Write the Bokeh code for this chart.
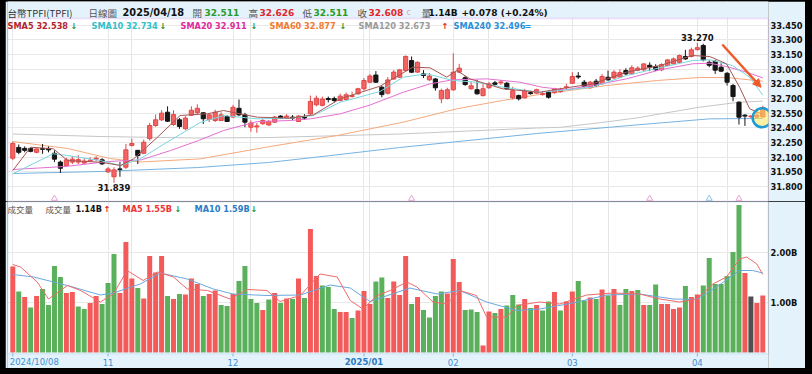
import numpy as np
from bokeh.plotting import figure
from bokeh.layouts import column
from bokeh.models import (ColumnDataSource, Range1d, FixedTicker, PrintfTickFormatter,
                          Grid, Label, Arrow, NormalHead, BoxAnnotation)
from bokeh.core.properties import value
from bokeh.embed import file_html
from bokeh.resources import INLINE

# ---------------- data ----------------
opens = [
    32.09, 32.20, 32.19, 32.19, 32.15, 32.19, 32.19, 32.14, 32.05, 32.014,
    32.05, 32.05, 32.04, 32.06, 32.08, 32.073, 31.95, 31.90, 31.98, 31.998,
    32.22, 32.17, 32.14, 32.29, 32.424, 32.482, 32.56, 32.434, 32.482, 32.39,
    32.53, 32.555, 32.554, 32.485, 32.475, 32.475, 32.516, 32.51, 32.60, 32.533,
    32.407, 32.41, 32.443, 32.43, 32.458, 32.52, 32.50, 32.51, 32.465, 32.51,
    32.543, 32.636, 32.63, 32.70, 32.70, 32.68, 32.69, 32.72, 32.748, 32.80,
    32.867, 32.94, 32.815, 32.754, 32.90, 32.918, 32.986, 33.088, 32.97, 32.952,
    32.891, 32.90, 32.697, 32.70, 32.789, 32.97, 32.912, 32.80, 32.79, 32.73,
    32.81, 32.86, 32.86, 32.856, 32.707, 32.73, 32.707, 32.76, 32.755, 32.74,
    32.764, 32.76, 32.77, 32.81, 32.856, 32.93, 32.867, 32.81, 32.877, 32.85,
    32.917, 32.91, 32.92, 32.986, 32.952, 32.99, 32.993, 33.04, 33.027, 32.993,
    33.037, 33.054, 33.07, 33.13, 33.13, 33.20, 33.242, 33.07, 33.08, 33.02,
    32.958, 32.833, 32.662, 32.53, 32.515, 32.51, 32.511]
highs = [
    32.26, 32.23, 32.21, 32.20, 32.19, 32.235, 32.21, 32.17, 32.066, 32.094,
    32.11, 32.12, 32.09, 32.10, 32.11, 32.09, 32.00, 31.997, 32.05, 32.236,
    32.29, 32.174, 32.28, 32.45, 32.536, 32.58, 32.62, 32.58, 32.50, 32.52,
    32.62, 32.64, 32.56, 32.55, 32.585, 32.56, 32.53, 32.635, 32.69, 32.554,
    32.475, 32.45, 32.49, 32.48, 32.52, 32.53, 32.54, 32.53, 32.53, 32.54,
    32.73, 32.73, 32.72, 32.72, 32.72, 32.75, 32.76, 32.77, 32.81, 32.91,
    32.95, 32.98, 32.83, 32.92, 32.99, 33.00, 33.14, 33.13, 33.08, 32.99,
    32.96, 32.91, 32.80, 32.81, 33.163, 33.055, 32.93, 32.87, 32.89, 32.85,
    32.87, 32.88, 32.89, 32.87, 32.82, 32.74, 32.80, 32.78, 32.80, 32.77,
    32.78, 32.81, 32.81, 32.85, 32.97, 32.97, 32.89, 32.88, 32.90, 32.95,
    32.986, 32.99, 33.00, 33.01, 33.04, 33.03, 33.06, 33.07, 33.05, 33.06,
    33.10, 33.12, 33.15, 33.198, 33.22, 33.27, 33.26, 33.09, 33.095, 33.06,
    32.97, 32.85, 32.672, 32.54, 32.53, 32.58, 32.626]
lows = [
    32.07, 32.13, 32.15, 32.15, 32.14, 32.135, 32.15, 32.05, 31.94, 32.005,
    32.03, 32.03, 32.03, 32.05, 32.06, 32.02, 31.94, 31.839, 31.90, 31.98,
    32.21, 32.03, 32.13, 32.27, 32.41, 32.47, 32.46, 32.42, 32.39, 32.38,
    32.52, 32.54, 32.44, 32.46, 32.46, 32.47, 32.46, 32.50, 32.52, 32.407,
    32.36, 32.35, 32.43, 32.42, 32.45, 32.49, 32.49, 32.48, 32.46, 32.48,
    32.535, 32.62, 32.62, 32.66, 32.66, 32.67, 32.68, 32.71, 32.74, 32.78,
    32.86, 32.86, 32.713, 32.74, 32.89, 32.91, 32.98, 32.96, 32.96, 32.91,
    32.88, 32.78, 32.652, 32.69, 32.78, 32.96, 32.83, 32.79, 32.74, 32.72,
    32.80, 32.83, 32.84, 32.79, 32.69, 32.68, 32.70, 32.74, 32.75, 32.73,
    32.70, 32.75, 32.76, 32.79, 32.85, 32.90, 32.81, 32.80, 32.82, 32.845,
    32.884, 32.90, 32.91, 32.94, 32.94, 32.98, 32.98, 32.98, 32.98, 32.98,
    33.03, 33.05, 33.06, 33.095, 33.12, 33.19, 33.08, 33.02, 32.952, 32.97,
    32.833, 32.672, 32.434, 32.42, 32.50, 32.50, 32.511]
closes = [
    32.24, 32.15, 32.17, 32.16, 32.185, 32.18, 32.175, 32.08, 31.987, 32.073,
    32.08, 32.075, 32.06, 32.07, 32.09, 32.032, 31.98, 31.97, 31.975, 32.175,
    32.24, 32.117, 32.253, 32.424, 32.482, 32.55, 32.468, 32.536, 32.414, 32.50,
    32.58, 32.60, 32.493, 32.533, 32.56, 32.533, 32.465, 32.61, 32.533, 32.458,
    32.45, 32.42, 32.475, 32.465, 32.51, 32.50, 32.52, 32.50, 32.52, 32.50,
    32.67, 32.703, 32.695, 32.69, 32.68, 32.724, 32.738, 32.73, 32.80, 32.884,
    32.93, 32.867, 32.74, 32.89, 32.97, 32.993, 33.13, 32.969, 33.07, 32.935,
    32.93, 32.81, 32.782, 32.79, 32.969, 33.01, 32.843, 32.83, 32.748, 32.80,
    32.85, 32.845, 32.87, 32.80, 32.78, 32.697, 32.78, 32.75, 32.79, 32.75,
    32.713, 32.80, 32.79, 32.82, 32.925, 32.92, 32.823, 32.867, 32.833, 32.925,
    32.89, 32.97, 32.965, 32.952, 33.014, 33.01, 33.054, 33.02, 32.993, 33.047,
    33.095, 33.105, 33.139, 33.105, 33.198, 33.22, 33.096, 33.04, 32.99, 32.98,
    32.867, 32.72, 32.509, 32.52, 32.52, 32.53, 32.608]
prev_close_before = 32.05
volumes = [  # billions
    1.72, 1.22, 1.11, 0.90, 1.13, 1.27, 0.95, 1.73, 1.51, 1.19,
    1.21, 0.92, 0.87, 0.99, 1.13, 0.97, 1.39, 1.97, 1.19, 2.21,
    1.48, 1.29, 1.08, 1.93, 1.60, 1.93, 1.13, 1.07, 1.17, 1.16,
    1.48, 1.37, 1.13, 1.17, 1.24, 0.95, 0.93, 1.17, 1.43, 1.73,
    1.07, 0.99, 0.85, 1.06, 1.19, 0.99, 1.08, 1.07, 1.48, 1.09,
    2.47, 1.53, 1.34, 1.31, 0.87, 0.81, 0.81, 0.69, 0.84, 1.23,
    0.97, 1.42, 1.50, 1.09, 1.42, 1.15, 1.93, 0.97, 1.11, 0.85,
    0.70, 1.13, 1.22, 1.18, 1.87, 1.41, 0.85, 0.86, 0.81, 0.14,
    0.82, 0.79, 0.87, 0.94, 1.15, 0.96, 1.07, 0.89, 0.95, 0.84,
    1.02, 1.21, 0.84, 1.02, 1.22, 1.43, 1.04, 1.10, 1.07, 1.26,
    1.14, 1.27, 0.95, 1.27, 1.23, 1.25, 0.95, 0.95, 1.36, 0.97,
    0.97, 0.87, 0.90, 1.33, 1.11, 1.16, 1.34, 1.89, 1.37, 1.37,
    1.53, 2.01, 2.95, 1.59, 1.12, 0.99, 1.14]

tick_idx = [0, 16, 37, 59, 74, 94, 115]
tick_labels = ["2024/10/08", "11", "12", "2025/01", "02", "03", "04"]
price_ticks = [31.80, 31.95, 32.10, 32.25, 32.40, 32.55, 32.70, 32.85, 33.00, 33.15, 33.30, 33.45]
vol_ticks = [1.0, 2.0]

# moving-average lines, read as knots (trading-day index, value)
sma5_x = [0, 3, 6.8, 9.2, 14.7, 18.1, 20.3, 24.3, 28.1, 32.7, 35.4, 41.1, 46.6, 50.5, 55, 61.7, 67.2,
          70.1, 72.9, 74.6, 76.8, 82.3, 88.5, 91.9, 97.4, 103.1, 108.7, 114.2, 117.1, 119.9, 122.1, 123.8, 126]
sma5_y = [31.964, 32.202, 32.186, 32.066, 32.049, 32.015, 32.083, 32.304, 32.526, 32.544, 32.577, 32.509,
          32.499, 32.533, 32.697, 32.826, 33.020, 33.014, 32.918, 32.986, 32.901, 32.799, 32.764, 32.799,
          32.850, 32.969, 33.037, 33.140, 33.129, 33.055, 32.816, 32.595, 32.538]
sma10_x = [0, 6.8, 9.2, 14.7, 18.1, 21.4, 25.9, 31.5, 35.4, 41.1, 46.6, 50.5, 55, 61.7, 65.6, 69.6, 73.9,
           77.9, 82.3, 88.5, 91.9, 97.4, 103.1, 108.7, 114.2, 117.1, 120.9, 123.8, 126]
sma10_y = [31.930, 32.135, 32.117, 32.066, 32.015, 32.083, 32.253, 32.455, 32.526, 32.492, 32.499, 32.526,
           32.662, 32.772, 32.918, 32.953, 32.884, 32.867, 32.816, 32.764, 32.782, 32.816, 32.935, 33.014,
           33.088, 33.096, 33.037, 32.918, 32.734]
sma20_x = [0, 8.8, 16.1, 21.6, 26.5, 31.2, 35.4, 41.1, 46.6, 50, 55, 60, 65.6, 70.1, 73.9, 79.6, 85.2,
           88.9, 92.7, 97.4, 103.1, 108.7, 114.2, 117.1, 119.9, 123.3, 126]
sma20_y = [31.974, 32.005, 32.056, 32.073, 32.168, 32.270, 32.373, 32.465, 32.475, 32.492, 32.543, 32.633,
           32.764, 32.850, 32.891, 32.901, 32.867, 32.816, 32.789, 32.833, 32.901, 32.993, 33.055, 33.061,
           33.027, 32.969, 32.911]
sma60_x = [0, 9.2, 16.4, 21.4, 31.5, 43.2, 54.5, 65.6, 74.6, 82.3, 88.5, 99.8, 108.2, 115.4, 119.9, 126]
sma60_y = [32.260, 32.189, 32.086, 32.051, 32.083, 32.209, 32.322, 32.458, 32.595, 32.680, 32.741, 32.833,
           32.884, 32.915, 32.915, 32.877]
sma120_x = [0, 15, 31, 43, 65, 88, 92, 99, 105, 115, 122, 126]
sma120_y = [32.337, 32.311, 32.296, 32.301, 32.337, 32.398, 32.406, 32.455, 32.503, 32.608, 32.662, 32.673]
sma240_x = [0, 15, 31, 43, 53, 65, 88, 105, 117, 126]
sma240_y = [31.933, 31.954, 31.994, 32.046, 32.114, 32.199, 32.342, 32.431, 32.492, 32.496]

vma5_x = [0, 1.3, 4.1, 6, 9.2, 11.4, 14.7, 16.9, 19.2, 21.9, 24.3, 27, 29.3, 32.7, 36.5, 39.4, 42.7, 44.9,
          48.3, 51.6, 54.5, 56.7, 58.8, 61.2, 63.4, 66.2, 67.9, 70.6, 72.9, 75.1, 77.9, 79.6, 83, 84.7,
          88.5, 91.9, 96.4, 100.8, 105.3, 108.7, 112, 114.9, 117.6, 119.9, 122.1, 123.3, 125, 126]
vma5_y = [1.76, 1.71, 1.41, 1.07, 1.34, 1.24, 1.01, 1.17, 1.64, 1.44, 1.61, 1.51, 1.27, 1.24, 1.07, 1.26,
          1.24, 1.02, 1.14, 1.57, 1.51, 1.04, 0.87, 1.14, 1.24, 1.41, 1.31, 1.01, 0.97, 1.24, 1.14, 0.71,
          0.71, 0.94, 1.01, 0.97, 1.15, 1.19, 1.17, 1.07, 1.01, 1.07, 1.37, 1.51, 1.87, 1.91, 1.77, 1.56]
vma10_x = [0, 3.5, 9.2, 14.7, 16.9, 21.4, 24.8, 29.3, 33.7, 37, 42.7, 48.3, 53.3, 56.7, 60, 66.7, 71.3,
           75.1, 79.6, 84.7, 88.5, 94.1, 99.8, 105.3, 110.9, 114.9, 118.7, 120.9, 122.1, 124.3, 126]
vma10_y = [1.56, 1.51, 1.34, 1.15, 1.19, 1.37, 1.59, 1.47, 1.27, 1.17, 1.14, 1.15, 1.35, 1.29, 1.02, 1.29,
           1.17, 1.24, 1.01, 0.84, 0.87, 0.99, 1.15, 1.17, 1.07, 1.06, 1.35, 1.54, 1.64, 1.64, 1.59]

event_idx = [7, 67, 107, 117, 122]
event_kind = ["a", "a", "a", "b", "a"]

highlight_pt = (125.9, 32.503)
arrow_from = (119.2, 33.252)
arrow_to = (125.7, 32.815)

# ---------------- derived ----------------
n = len(closes)
assert all(len(a) == n for a in (opens, highs, lows, volumes))
xi = np.arange(n)
o = np.array(opens); hi = np.array(highs); lo = np.array(lows); c = np.array(closes)
rise = c >= o
prev = np.concatenate([[prev_close_before], c[:-1]])
diff = np.round(c - prev, 4)
vcol = np.where(diff > 0, "#f35b5b", np.where(diff < 0, "#5bb05b", "#4f4f4f"))
src = ColumnDataSource(dict(
    x=xi, top=np.maximum(o, c), bottom=np.minimum(o, c), high=hi, low=lo,
    body=np.where(rise, "#f46262", "#151515"), edge=np.where(rise, "#e04848", "#151515"),
    vol=np.array(volumes), vcol=vcol))

BAND = "#e4f2fb"
PINK = "#dba4e8"
xr = Range1d(-0.89, 126.96)

PRICE_LO, PRICE_HI = 31.647, 33.518      # plotting area of the price panel
HEADER_TOP = 33.692                      # frame extended up over the header band
VOL_LO, VOL_HI = -0.02, 3.02
DATE_BAND_LO = -0.32                     # frame extended down over the date band


def style_value_axis(ax):
    ax.axis_line_color = None
    ax.major_tick_line_color = None
    ax.minor_tick_line_color = None
    ax.major_tick_in = 0
    ax.major_tick_out = 0
    ax.minor_tick_in = 0
    ax.minor_tick_out = 0
    ax.major_label_standoff = 2
    ax.major_label_text_font = "DejaVu Sans"
    ax.major_label_text_font_style = "bold"
    ax.major_label_text_font_size = "8.3px"
    ax.major_label_text_color = "#111111"


def label(fig, x, y, text, color, size, bold=False, font="DejaVu Sans", align="left"):
    fig.add_layout(Label(x=x, y=y, x_units="screen", y_units="screen", text=text,
                         text_color=color, text_font=font, text_font_size=f"{size}px",
                         text_font_style="bold" if bold else "normal",
                         text_baseline="middle", text_align=align))


# ---------------- price panel ----------------
p = figure(width=800, height=200, x_range=xr, y_range=Range1d(PRICE_LO, HEADER_TOP),
           output_backend="svg", toolbar_location=None,
           x_axis_location=None, y_axis_location="right",
           min_border_left=2, min_border_right=36, min_border_top=0, min_border_bottom=0,
           border_fill_color=BAND, background_fill_color="#ffffff",
           outline_line_color=None)
pax = p.yaxis[0]
pax.ticker = FixedTicker(ticks=price_ticks)
pax.formatter = PrintfTickFormatter(format="%.3f")
style_value_axis(pax)
p.ygrid.ticker = FixedTicker(ticks=price_ticks)
p.ygrid.grid_line_color = "#e8e8e8"
p.add_layout(Grid(dimension=0, ticker=FixedTicker(ticks=tick_idx), grid_line_color="#e8e8e8"))
p.add_layout(BoxAnnotation(bottom=PRICE_HI, fill_color=BAND, fill_alpha=1.0, line_color=None,
                           level="underlay"))
p.add_layout(BoxAnnotation(top=PRICE_HI, fill_alpha=0.0, line_color=PINK, line_width=2))

p.line(sma240_x, sma240_y, line_color="#76b3e2", line_width=1)
p.line(sma120_x, sma120_y, line_color="#c6c6c6", line_width=1)
p.line(sma60_x, sma60_y, line_color="#f5a97c", line_width=1)

p.segment(x0="x", y0="low", x1="x", y1="high", line_color="edge", line_width=1, source=src)
p.vbar(x="x", width=0.7, top="top", bottom="bottom", fill_color="body", line_color="edge",
       line_width=1, source=src)

p.line(sma20_x, sma20_y, line_color="#e46fd2", line_width=1)
p.line(sma10_x, sma10_y, line_color="#79d6e0", line_width=1)
p.line(sma5_x, sma5_y, line_color="#a65656", line_width=1)

ev_colors = ["#e7a3d6" if k == "a" else "#86c7e6" for k in event_kind]
p.scatter(x=event_idx, y=[PRICE_LO + 0.03] * len(event_idx), marker="triangle", size=6,
          fill_color="#ffffff", line_color=ev_colors, line_width=1)

imax = int(np.argmax(hi)); imin = int(np.argmin(lo))
p.text(x=[imax], y=[hi[imax]], text=[f"{hi[imax]:.3f}"], text_align="center", text_baseline="bottom",
       y_offset=-2, text_font=value("DejaVu Sans"), text_font_style="bold",
       text_font_size=value("8.5px"), text_color="#111111")
p.text(x=[imin], y=[lo[imin]], text=[f"{lo[imin]:.3f}"], text_align="center", text_baseline="top",
       y_offset=1, text_font=value("DejaVu Sans"), text_font_style="bold",
       text_font_size=value("8.5px"), text_color="#111111")

p.scatter(x=[highlight_pt[0]], y=[highlight_pt[1]], marker="circle", size=19,
          fill_color="#ffe35a", fill_alpha=0.55, line_color="#1e9bd7", line_width=2.5)
p.add_layout(Arrow(end=NormalHead(size=8, fill_color="#ee5a2a", line_color="#ee5a2a"),
                   x_start=arrow_from[0], y_start=arrow_from[1], x_end=arrow_to[0], y_end=arrow_to[1],
                   line_color="#ee5a2a", line_width=2.5))

# header band (frame-relative screen coords: frame left = page x 7, bottom = page y 201)
HY = 189
CJK = "Noto Sans CJK TC"
label(p, 0, HY, "台幣TPFI(TPFI)", "#333333", 9.5, font=CJK)
label(p, 81, HY, "日線圖", "#555555", 9.5, font=CJK)
label(p, 115, HY, "2025/04/18", "#111111", 9.8, bold=True)
label(p, 185, HY, "開", "#555555", 9.5, font=CJK)
label(p, 197, HY, "32.511", "#2a9a2a", 9, bold=True)
label(p, 241, HY, "高", "#555555", 9.5, font=CJK)
label(p, 252, HY, "32.626", "#e2252a", 9, bold=True)
label(p, 295, HY, "低", "#555555", 9.5, font=CJK)
label(p, 306, HY, "32.511", "#2a9a2a", 9, bold=True)
label(p, 350, HY, "收", "#555555", 9.5, font=CJK)
label(p, 361, HY, "32.608", "#e2252a", 9, bold=True)
label(p, 399, HY, "c", "#e4a4a4", 8)
label(p, 414, HY, "量", "#555555", 9.5, font=CJK)
label(p, 421, HY, "1.14B", "#111111", 9, bold=True)
label(p, 454, HY, "+0.078 (+0.24%)", "#111111", 9, bold=True)

LY = 176
GREEN = "#1f8f1f"; RED = "#e02020"
label(p, 0, LY, "SMA5 32.538", "#b3262e", 8.2, bold=True)
label(p, 63, LY, "↓", GREEN, 8.2, bold=True)
label(p, 84, LY, "SMA10 32.734", "#33bfc9", 8.2, bold=True)
label(p, 152, LY, "↓", GREEN, 8.2, bold=True)
label(p, 173, LY, "SMA20 32.911", "#e02a9a", 8.2, bold=True)
label(p, 243, LY, "↓", GREEN, 8.2, bold=True)
label(p, 262, LY, "SMA60 32.877", "#f07a30", 8.2, bold=True)
label(p, 332, LY, "↓", GREEN, 8.2, bold=True)
label(p, 351, LY, "SMA120 32.673", "#9a9a9a", 8.2, bold=True)
label(p, 434, LY, "↑", RED, 8.2, bold=True)
label(p, 446, LY, "SMA240 32.496", "#2a8fd6", 8.2, bold=True)
label(p, 517, LY, "=", "#2a8fd6", 8.2, bold=True)

# ---------------- volume panel ----------------
v = figure(width=800, height=167, x_range=xr, y_range=Range1d(DATE_BAND_LO, VOL_HI),
           output_backend="svg", toolbar_location=None,
           x_axis_location=None, y_axis_location="right",
           min_border_left=2, min_border_right=36, min_border_top=0, min_border_bottom=0,
           border_fill_color=BAND, background_fill_color="#ffffff",
           outline_line_color=None)
vax = v.yaxis[0]
vax.ticker = FixedTicker(ticks=vol_ticks)
vax.formatter = PrintfTickFormatter(format="%.2fB")
style_value_axis(vax)
v.ygrid.ticker = FixedTicker(ticks=vol_ticks)
v.ygrid.grid_line_color = "#e8e8e8"
v.add_layout(Grid(dimension=0, ticker=FixedTicker(ticks=tick_idx), grid_line_color="#e8e8e8"))
v.add_layout(BoxAnnotation(top=VOL_LO, fill_color=BAND, fill_alpha=1.0, line_color=None,
                           level="underlay"))
v.add_layout(BoxAnnotation(bottom=VOL_LO, fill_alpha=0.0, line_color="#9ccaea", line_width=2))

v.vbar(x="x", width=0.84, top="vol", bottom=0, fill_color="vcol", line_color=None, source=src)
v.line(vma10_x, vma10_y, line_color="#6aa8df", line_width=1)
v.line(vma5_x, vma5_y, line_color="#f06a6a", line_width=1)

# date axis: tick marks and labels
v.segment(x0=tick_idx, y0=[VOL_LO] * len(tick_idx), x1=tick_idx, y1=[VOL_LO - 0.06] * len(tick_idx),
          line_color="#86b6e0", line_width=1)
DATE_Y = -0.19
first_lab = tick_labels[0]
v.text(x=[tick_idx[0]], y=[DATE_Y], text=[first_lab], x_offset=-3, text_align="left",
       text_baseline="middle", text_font=value("DejaVu Sans"), text_font_size=value("8.5px"),
       text_color="#3d8fd1")
year_pairs = [(t, lab) for t, lab in zip(tick_idx[1:], tick_labels[1:]) if "/" in lab]
month_pairs = [(t, lab) for t, lab in zip(tick_idx[1:], tick_labels[1:]) if "/" not in lab]
v.text(x=[t for t, _ in year_pairs], y=[DATE_Y] * len(year_pairs), text=[l for _, l in year_pairs],
       text_align="center", text_baseline="middle", text_font=value("DejaVu Sans"),
       text_font_style="bold", text_font_size=value("8.5px"), text_color="#2a78c2")
v.text(x=[t for t, _ in month_pairs], y=[DATE_Y] * len(month_pairs), text=[l for _, l in month_pairs],
       text_align="center", text_baseline="middle", text_font=value("DejaVu Sans"),
       text_font_size=value("8.5px"), text_color="#3d8fd1")

# volume legend (frame-relative: frame bottom = page y 368)
VY = 160
label(v, 0, VY, "成交量", "#555555", 8.5, font=CJK)
label(v, 38, VY, "成交量", "#555555", 8.5, font=CJK)
label(v, 68, VY, "1.14B", "#111111", 8.2, bold=True)
label(v, 96, VY, "↑", RED, 8.2, bold=True)
label(v, 115, VY, "MA5 1.55B", "#ee3333", 8.2, bold=True)
label(v, 167, VY, "↓", GREEN, 8.2, bold=True)
label(v, 187, VY, "MA10 1.59B", "#2b7cc7", 8.2, bold=True)
label(v, 243, VY, "↓", GREEN, 8.2, bold=True)

p.margin = (1, 7, 0, 5)
v.margin = (0, 7, 6, 5)
layout = column(p, v, spacing=0,
                styles={"background-color": "#000000", "position": "absolute",
                        "top": "0px", "left": "0px"})

open("out.html", "w").write(file_html(layout, INLINE, title="TPFI"))
